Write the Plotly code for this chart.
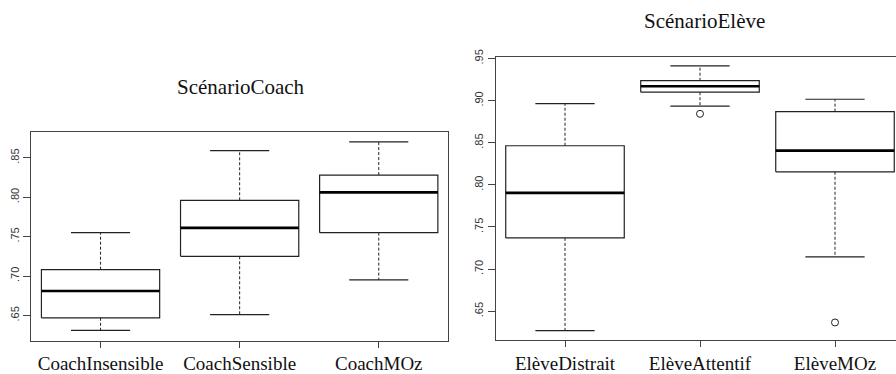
import plotly.graph_objects as go

# ---- data ----
coach_cats = ["CoachInsensible", "CoachSensible", "CoachMOz"]
coach_low = [0.631, 0.651, 0.695]
coach_q1 = [0.647, 0.725, 0.755]
coach_med = [0.681, 0.761, 0.806]
coach_q3 = [0.708, 0.796, 0.828]
coach_high = [0.755, 0.859, 0.870]
coach_out = [[], [], []]

eleve_cats = ["ElèveDistrait", "ElèveAttentif", "ElèveMOz"]
eleve_low = [0.627, 0.8935, 0.7145]
eleve_q1 = [0.737, 0.910, 0.8155]
eleve_med = [0.7905, 0.917, 0.8406]
eleve_q3 = [0.8464, 0.9236, 0.8869]
eleve_high = [0.8965, 0.9413, 0.9016]
eleve_out = [[], [0.8843], [0.6366]]

coach_ticks = [0.65, 0.70, 0.75, 0.80, 0.85]
coach_ticktext = [".65", ".70", ".75", ".80", ".85"]
eleve_ticks = [0.65, 0.70, 0.75, 0.80, 0.85, 0.90, 0.95]
eleve_ticktext = [".65", ".70", ".75", ".80", ".85", ".90", ".95"]

W, H = 896, 374
LINE = "#222222"
FRAME = "#444444"

fig = go.Figure()


def add_boxes(low, q1, med, q3, high, outs, bw, xa, ya):
    for i in range(len(low)):
        c = i + 1
        l, r = c - bw / 2, c + bw / 2
        cl, cr = c - bw / 4, c + bw / 4
        # box
        fig.add_trace(go.Scatter(x=[l, r, r, l, l], y=[q1[i], q1[i], q3[i], q3[i], q1[i]],
                                 mode="lines", line=dict(color=LINE, width=1.2),
                                 xaxis=xa, yaxis=ya, hoverinfo="skip", showlegend=False))
        # median
        fig.add_trace(go.Scatter(x=[l, r], y=[med[i], med[i]], mode="lines",
                                 line=dict(color="#000000", width=2.6),
                                 xaxis=xa, yaxis=ya, hoverinfo="skip", showlegend=False))
        # whiskers (dashed)
        fig.add_trace(go.Scatter(x=[c, c, None, c, c], y=[q3[i], high[i], None, q1[i], low[i]],
                                 mode="lines", line=dict(color=LINE, width=1, dash="3px,2px"),
                                 xaxis=xa, yaxis=ya, hoverinfo="skip", showlegend=False))
        # staples
        fig.add_trace(go.Scatter(x=[cl, cr, None, cl, cr], y=[high[i], high[i], None, low[i], low[i]],
                                 mode="lines", line=dict(color=LINE, width=1.2),
                                 xaxis=xa, yaxis=ya, hoverinfo="skip", showlegend=False))
        if outs[i]:
            fig.add_trace(go.Scatter(x=[c] * len(outs[i]), y=outs[i], mode="markers",
                                     marker=dict(symbol="circle-open", size=7, color=LINE,
                                                 line=dict(width=1)),
                                     xaxis=xa, yaxis=ya, hoverinfo="skip", showlegend=False))


add_boxes(coach_low, coach_q1, coach_med, coach_q3, coach_high, coach_out, 0.85, "x", "y")
add_boxes(eleve_low, eleve_q1, eleve_med, eleve_q3, eleve_high, eleve_out, 0.878, "x2", "y2")

xfont = dict(family="Liberation Serif", size=19, color="#111111")
yfont = dict(family="Liberation Sans", size=11, color="#333333")

common_x = dict(showgrid=False, zeroline=False, showline=True, linecolor=FRAME, linewidth=1,
                ticks="outside", ticklen=6, tickcolor=FRAME, tickfont=xfont, tickvals=[1, 2, 3])
common_y = dict(showgrid=False, zeroline=False, showline=True, linecolor=FRAME, linewidth=1,
                ticks="outside", ticklen=7, tickcolor=FRAME, tickfont=yfont, tickangle=-90)

# right panel: unit 135 px, category 1 at x=565 px, domain starts at 495.7 px
r_unit = 135.0
r_x0 = 1 - (565 - 495.7) / r_unit
r_x1 = r_x0 + (W - 495.7) / r_unit

fig.update_layout(
    width=W, height=H, autosize=False,
    margin=dict(l=0, r=0, t=0, b=0),
    paper_bgcolor="white", plot_bgcolor="white",
    xaxis=dict(common_x, domain=[31 / W, 448.3 / W], range=[0.5, 3.5], mirror=True,
               ticktext=coach_cats, anchor="y"),
    yaxis=dict(common_y, domain=[(H - 340.7) / H, (H - 127) / H], range=[0.6182, 0.8827],
               mirror=True, tickvals=coach_ticks, ticktext=coach_ticktext, anchor="x"),
    xaxis2=dict(common_x, domain=[495.7 / W, 1.0], range=[r_x0, r_x1], mirror=True,
                ticktext=eleve_cats, anchor="y2"),
    yaxis2=dict(common_y, domain=[(H - 340) / H, (H - 50) / H], range=[0.616, 0.952],
                tickvals=eleve_ticks, ticktext=eleve_ticktext, anchor="x2"),
    annotations=[
        dict(text="ScénarioCoach", x=241 / W, y=(H - 81) / H, xref="paper", yref="paper",
             showarrow=False, font=dict(family="Liberation Serif", size=21, color="#111111"),
             xanchor="center", yanchor="middle"),
        dict(text="ScénarioElève", x=704 / W, y=(H - 13) / H, xref="paper", yref="paper",
             showarrow=False, font=dict(family="Liberation Serif", size=21, color="#111111"),
             xanchor="center", yanchor="middle"),
    ],
)

fig.write_html("out.html", config={"displayModeBar": False, "staticPlot": True})

# remove the browser's default body margin so the figure sits at the page origin
with open("out.html", "r", encoding="utf-8") as f:
    html = f.read()
html = html.replace("<body>", '<body style="margin:0;padding:0;overflow:hidden">', 1)
with open("out.html", "w", encoding="utf-8") as f:
    f.write(html)
